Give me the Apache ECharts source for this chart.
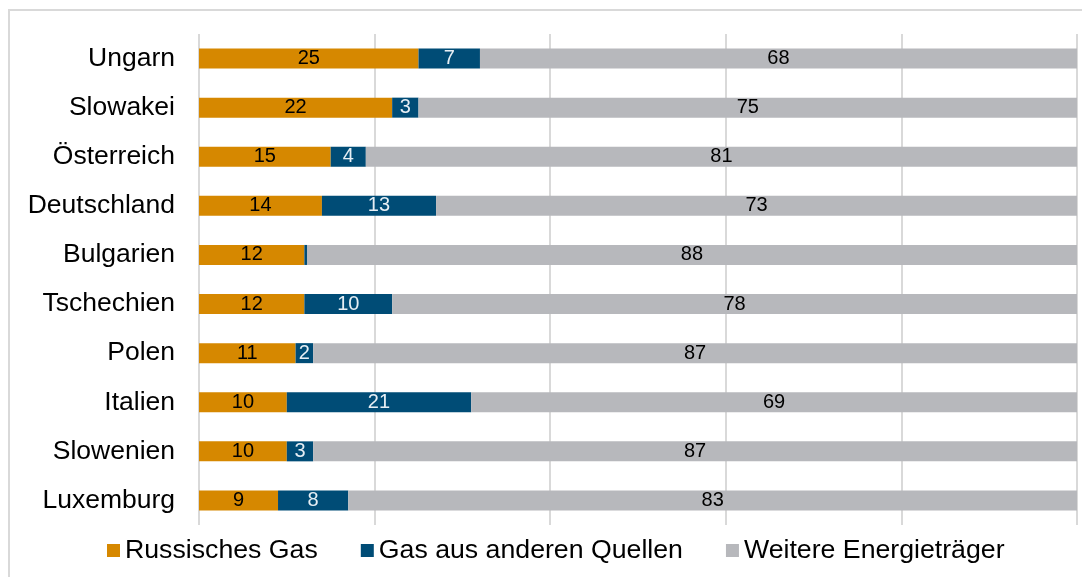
<!DOCTYPE html>
<html>
<head>
<meta charset="utf-8">
<script src="https://cdn.jsdelivr.net/npm/echarts@6/dist/echarts.min.js"></script>
<style>
  html, body { margin: 0; padding: 0; background: #fff; }
  #chart { width: 1082px; height: 577px; }
</style>
</head>
<body>
<div id="chart"></div>
<script>
// Länder (von oben nach unten)
const laender = ['Ungarn', 'Slowakei', 'Österreich', 'Deutschland', 'Bulgarien',
  'Tschechien', 'Polen', 'Italien', 'Slowenien', 'Luxemburg']
// Anteile in Prozent
const russischesGas = [25, 22, 15, 14, 12, 12, 11, 10, 10, 9]
const andereQuellen = [7, 3, 4, 13, 0.3, 10, 2, 21, 3, 8]
const weitereTraeger = [68, 75, 81, 73, 87.7, 78, 87, 69, 87, 83]

const labelFont = 'Liberation Sans, Arial, sans-serif'

function makeLabel (color) {
  return {
    show: true,
    position: 'inside',
    color: color,
    fontSize: 20,
    fontFamily: labelFont,
    formatter: function (p) {
      return p.value >= 1 ? Math.round(p.value) : ''
    }
  }
}

const chart = echarts.init(document.getElementById('chart'), null, { renderer: 'canvas' })

chart.setOption({
  animation: false,
  backgroundColor: '#fff',
  textStyle: { fontFamily: labelFont },
  graphic: [{
    type: 'rect',
    shape: { x: 9, y: 10, width: 1100, height: 600 },
    style: { fill: 'none', stroke: '#d9d9d9', lineWidth: 2 },
    silent: true
  }],
  grid: {
    left: 199,
    right: 5,
    top: 34,
    bottom: 52
  },
  legend: {
    left: 102,
    top: 532,
    itemWidth: 13,
    itemHeight: 13,
    itemGap: 43,
    icon: 'rect',
    textStyle: { fontSize: 26.7, color: '#000', fontFamily: labelFont },
    data: ['Russisches Gas', 'Gas aus anderen Quellen', 'Weitere Energieträger']
  },
  xAxis: {
    type: 'value',
    min: 0,
    max: 100,
    interval: 20,
    axisLabel: { show: false },
    axisLine: { show: false },
    axisTick: { show: false },
    splitLine: { show: true, lineStyle: { color: '#d9d9d9', width: 2 } }
  },
  yAxis: {
    type: 'category',
    inverse: true,
    data: laender,
    axisLine: { show: false },
    axisTick: { show: false },
    axisLabel: { fontSize: 26.5, color: '#000', margin: 24, fontFamily: labelFont }
  },
  series: [
    {
      name: 'Russisches Gas',
      type: 'bar',
      stack: 'gesamt',
      barWidth: 20,
      itemStyle: { color: '#D68800' },
      label: makeLabel('#000'),
      data: russischesGas
    },
    {
      name: 'Gas aus anderen Quellen',
      type: 'bar',
      stack: 'gesamt',
      barWidth: 20,
      itemStyle: { color: '#004C76' },
      label: makeLabel('#e6eef4'),
      data: andereQuellen
    },
    {
      name: 'Weitere Energieträger',
      type: 'bar',
      stack: 'gesamt',
      barWidth: 20,
      itemStyle: { color: '#B7B8BC' },
      label: makeLabel('#000'),
      data: weitereTraeger
    }
  ]
})

window.addEventListener('resize', function () { chart.resize() })
</script>
</body>
</html>
